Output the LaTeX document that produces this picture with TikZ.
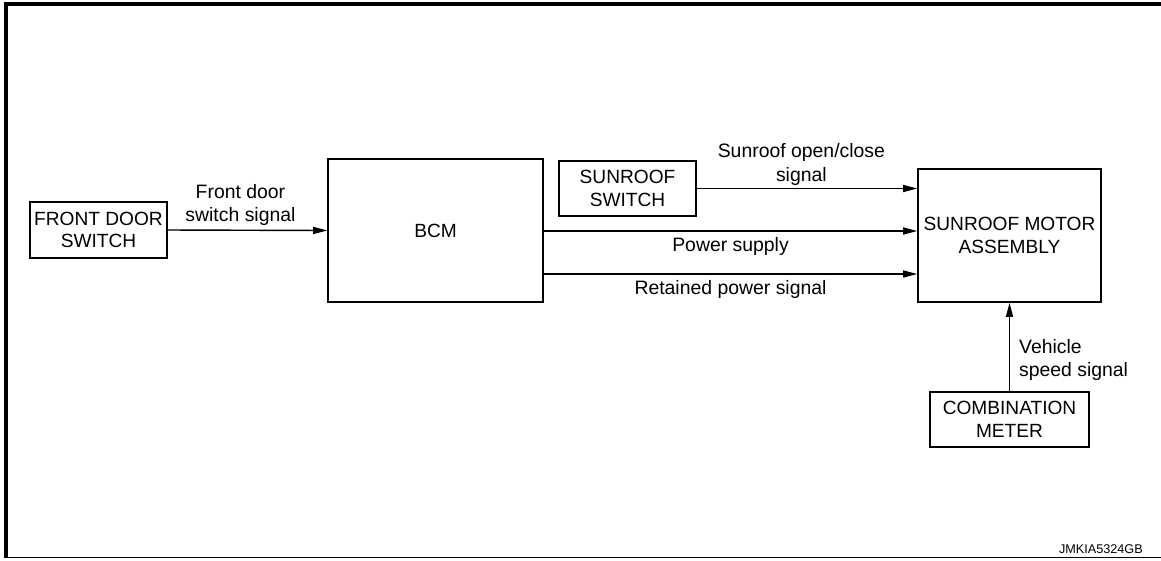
\documentclass[tikz,border=0pt]{standalone}
\usepackage{fontspec}
\setmainfont{Liberation Sans}
\usetikzlibrary{arrows.meta,positioning}

\begin{document}
\begin{tikzpicture}[x=0.025cm,y=-0.025cm,
        box/.style={draw,line width=1.1pt,align=center,inner sep=0pt,font=\fontsize{13.6}{16}\selectfont},
        sig/.style={line width=1pt,-{Triangle[length=10pt,width=5pt]}},
        lbl/.style={align=center,font=\fontsize{13.8}{16.5}\selectfont}]
        \useasboundingbox (0,0) rectangle (1161,560);
        % frame
        \draw[line width=2.2pt] (1161,4) -- (6,4) -- (6,557.5);
        \draw[line width=1.1pt] (5,557.5) -- (1161,557.5);
        % blocks
        \node[box,minimum width=137*0.025cm,minimum height=56*0.025cm] (fds) at (98.5,230) {FRONT DOOR\\SWITCH};
        \node[box,minimum width=215*0.025cm,minimum height=143*0.025cm] (bcm) at (435.5,230.5) {BCM};
        \node[box,minimum width=137*0.025cm,minimum height=55*0.025cm] (sw) at (627.5,188.5) {SUNROOF\\SWITCH};
        \node[box,minimum width=183*0.025cm,minimum height=133*0.025cm] (motor) at (1009.5,235.5) {SUNROOF MOTOR\\ASSEMBLY};
        \node[box,minimum width=159*0.025cm,minimum height=55*0.025cm] (meter) at (1009.5,419.5) {COMBINATION\\METER};
        % signals
        \draw[sig] (fds.east) -- (bcm.west) node[lbl,midway,above=-0.5pt,xshift=-5pt] {Front door\\switch signal};
        \draw[sig] (sw.east) -- (sw.east -| motor.west) node[lbl,midway,above=-1.5pt,xshift=-4pt] {Sunroof open/close\\signal};
        \draw[sig] (bcm.east |- 0,231) -- (motor.west |- 0,231) node[lbl,midway,below=1pt] {Power supply};
        \draw[sig] (bcm.east |- 0,274) -- (motor.west |- 0,274) node[lbl,midway,below=0.5pt] {Retained power signal};
        \draw[sig] (meter.north) -- (motor.south) node[lbl,pos=0.35,right=3pt,align=left] {Vehicle\\speed signal};
        \node[font=\fontsize{9}{10}\selectfont,anchor=base east,inner sep=0pt] (code) at (1143,553) {JMKIA5324GB};
\end{tikzpicture}
\end{document}
